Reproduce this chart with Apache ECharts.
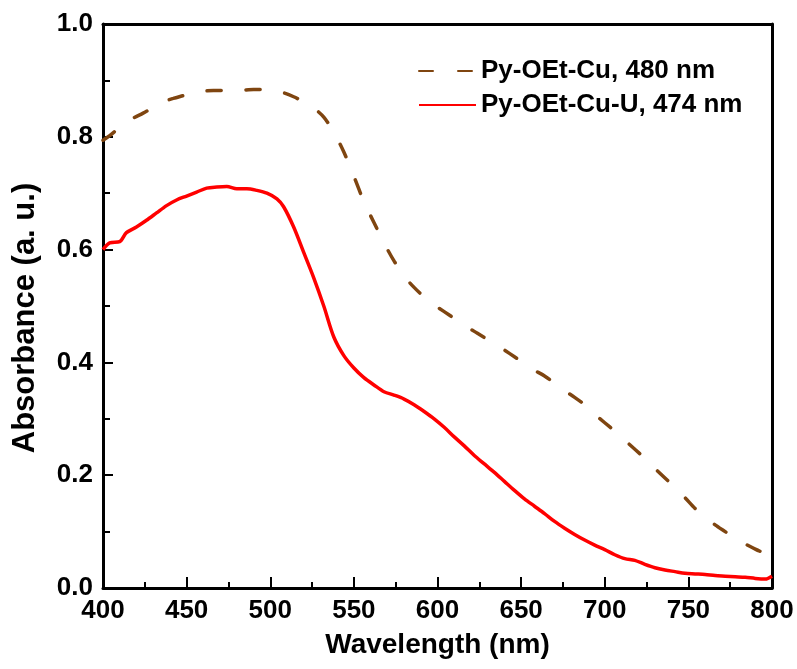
<!DOCTYPE html>
<html>
<head>
<meta charset="utf-8">
<script src="https://cdn.jsdelivr.net/npm/echarts@6/dist/echarts.min.js"></script>
<style>
  html, body { margin: 0; padding: 0; background: #fff; }
  #chart { width: 797px; height: 669px; }
</style>
</head>
<body>
<div id="chart"></div>
<script>
// absorbance spectra
var wlCu = [400, 404, 408, 412, 418, 424, 430, 436, 442, 448, 454, 460, 466, 472, 478, 484, 490, 496,
  502, 508, 514, 520, 526, 532, 538, 544, 550, 556, 562, 568, 574, 580, 586, 592, 598, 604, 610, 616,
  622, 628, 634, 640, 646, 652, 658, 664, 670, 676, 682, 688, 694, 700, 706, 712, 718, 724, 730, 736,
  742, 748, 754, 760, 766, 772, 778, 784, 790, 796, 800];
var absCu = [0.794, 0.802, 0.812, 0.822, 0.833, 0.842, 0.852, 0.862, 0.868, 0.873, 0.878, 0.881, 0.882, 0.882, 0.883, 0.883, 0.884, 0.884,
  0.882, 0.878, 0.871, 0.862, 0.851, 0.835, 0.808, 0.773, 0.730, 0.685, 0.648, 0.612, 0.580, 0.553, 0.533, 0.516, 0.502, 0.490, 0.478, 0.466,
  0.455, 0.444, 0.434, 0.422, 0.410, 0.398, 0.386, 0.376, 0.363, 0.350, 0.338, 0.325, 0.308, 0.293, 0.278, 0.262, 0.246, 0.230, 0.212, 0.195,
  0.178, 0.160, 0.141, 0.125, 0.112, 0.100, 0.088, 0.078, 0.069, 0.061, 0.057];

var wlCuU = [400, 404, 410, 414, 420, 426, 432, 438, 444, 450, 456, 462, 468, 474, 480, 486, 492, 498,
  504, 508, 514, 520, 526, 532, 538, 544, 550, 556, 562, 568, 574, 580, 586, 592, 598, 604, 610, 616,
  622, 628, 634, 640, 646, 652, 658, 664, 670, 676, 682, 688, 694, 700, 706, 712, 718, 724, 730, 736,
  742, 748, 754, 760, 766, 772, 778, 784, 790, 796, 800];
var absCuU = [0.600, 0.612, 0.614, 0.630, 0.640, 0.652, 0.665, 0.678, 0.688, 0.695, 0.702, 0.709, 0.711, 0.712, 0.708, 0.708, 0.705, 0.700,
  0.690, 0.676, 0.640, 0.595, 0.550, 0.500, 0.445, 0.412, 0.390, 0.373, 0.360, 0.348, 0.342, 0.335, 0.325, 0.313, 0.300, 0.285, 0.268, 0.252,
  0.235, 0.220, 0.205, 0.189, 0.173, 0.158, 0.145, 0.132, 0.118, 0.106, 0.095, 0.085, 0.076, 0.068, 0.059, 0.052, 0.049, 0.042, 0.036, 0.032,
  0.029, 0.026, 0.025, 0.024, 0.022, 0.021, 0.020, 0.019, 0.017, 0.016, 0.021];

var names = ['Py-OEt-Cu, 480 nm', 'Py-OEt-Cu-U, 474 nm'];

function pairs(xs, ys) {
  return xs.map(function (x, i) { return [x, ys[i]]; });
}

var font = 'Liberation Sans, Arial, sans-serif';
var chart = echarts.init(document.getElementById('chart'));

var option = {
  animation: false,
  grid: { left: 103, right: 25, top: 24, bottom: 81, outerBoundsMode: 'none', containLabel: false },
  legend: {
    left: 418, top: 57, orient: 'vertical', padding: 0,
    itemWidth: 57, itemHeight: 14, itemGap: 6,
    itemStyle: { opacity: 0 },
    textStyle: { fontFamily: font, fontWeight: 'bold', fontSize: 26, color: '#000', lineHeight: 28 },
    data: names
  },
  xAxis: [{
    type: 'value', min: 400, max: 800, interval: 50,
    name: 'Wavelength (nm)', nameLocation: 'middle', nameGap: 43,
    nameTextStyle: { fontFamily: font, fontWeight: 'bold', fontSize: 28, color: '#000' },
    axisLine: { lineStyle: { color: '#000', width: 3 } },
    axisTick: { inside: true, length: 11, lineStyle: { color: '#000', width: 2 } },
    minorTick: { show: true, splitNumber: 2, length: 6, lineStyle: { color: '#000', width: 2 } },
    axisLabel: { fontFamily: font, fontWeight: 'bold', fontSize: 26, color: '#000', margin: 10 },
    splitLine: { show: false }
  }, {
    type: 'value', position: 'top', min: 400, max: 800,
    axisLine: { onZero: false, lineStyle: { color: '#000', width: 3 } },
    axisTick: { show: false }, axisLabel: { show: false }, splitLine: { show: false }
  }],
  yAxis: [{
    type: 'value', min: 0, max: 1, interval: 0.2,
    name: 'Absorbance (a. u.)', nameLocation: 'middle', nameGap: 62,
    nameTextStyle: { fontFamily: font, fontWeight: 'bold', fontSize: 31, color: '#000', padding: [0, 24, 0, 0] },
    axisLine: { show: true, lineStyle: { color: '#000', width: 3 } },
    axisTick: { show: true, inside: true, length: 10, lineStyle: { color: '#000', width: 2 } },
    minorTick: { show: true, splitNumber: 2, length: 7, lineStyle: { color: '#000', width: 2 } },
    axisLabel: { fontFamily: font, fontWeight: 'bold', fontSize: 26, color: '#000', margin: 10,
      formatter: function (v) { return v.toFixed(1); } },
    splitLine: { show: false }
  }, {
    type: 'value', position: 'right', min: 0, max: 1,
    axisLine: { show: true, onZero: false, lineStyle: { color: '#000', width: 3 } },
    axisTick: { show: false }, axisLabel: { show: false }, splitLine: { show: false }
  }],
  series: [{
    name: names[0], type: 'line', showSymbol: false, symbol: 'none', smooth: 0.3,
    lineStyle: { color: '#7f4510', width: 3.5, type: [14, 25], cap: 'round' },
    itemStyle: { color: '#7f4510' },
    data: pairs(wlCu, absCu)
  }, {
    name: names[1], type: 'line', showSymbol: false, symbol: 'none', smooth: 0.3,
    lineStyle: { color: '#ff0000', width: 3.5 },
    itemStyle: { color: '#ff0000' },
    data: pairs(wlCuU, absCuU)
  }]
};
chart.setOption(option);
</script>
</body>
</html>
